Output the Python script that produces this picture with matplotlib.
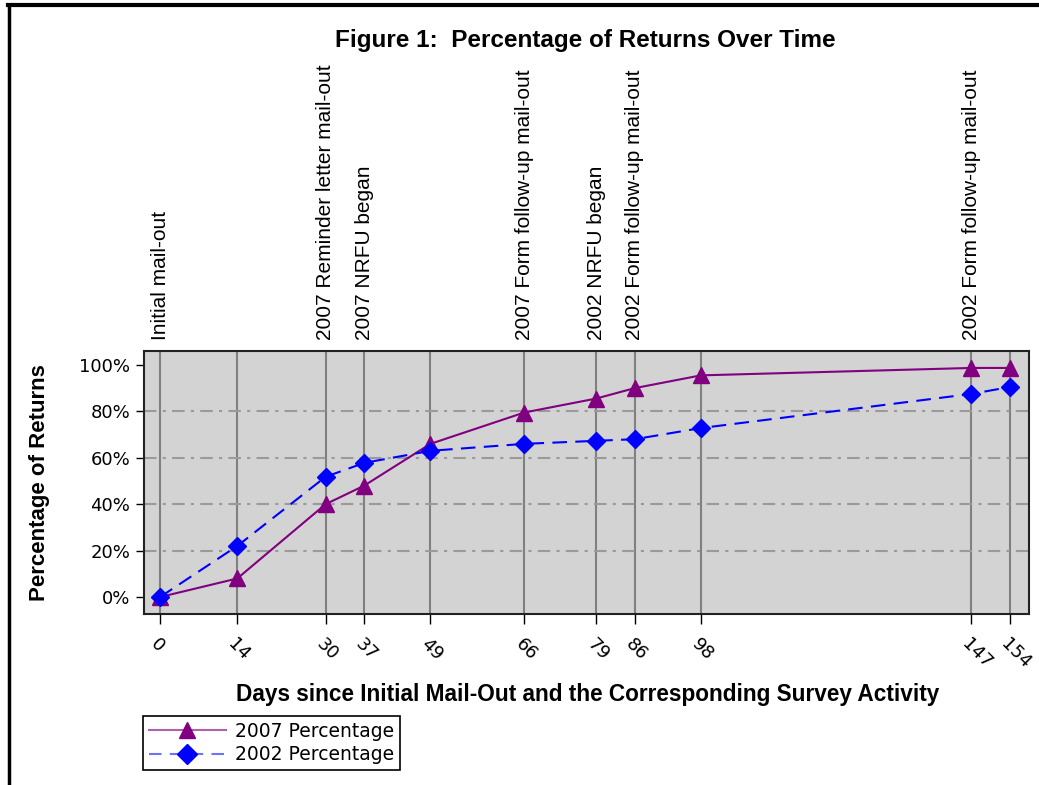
import numpy as np
import matplotlib.pyplot as plt
from matplotlib.lines import Line2D
from matplotlib.ticker import FuncFormatter

##################################
# DATA
##################################

days = [0, 14, 30, 37, 49, 66, 79, 86, 98, 147, 154]
pct_2007 = [0, 8, 40, 48, 66, 79.5, 85.5, 90, 95.5, 98.7, 98.7]
pct_2002 = [0, 22, 51.8, 57.8, 63, 66, 67.3, 68, 72.8, 87.5, 90.5]

event_days = [0, 30, 37, 66, 79, 86, 147]
event_labels = ["Initial mail-out",
                "2007 Reminder letter mail-out",
                "2007 NRFU began",
                "2007 Form follow-up mail-out",
                "2002 NRFU began",
                "2002 Form follow-up mail-out",
                "2002 Form follow-up mail-out"]

y_ticks = [0, 20, 40, 60, 80, 100]
grid_levels = [20, 40, 60, 80]

##################################
# PLOTTING
##################################

W, H = 1039, 785
fig = plt.figure(figsize=(W / 100, H / 100), dpi=100)
fig.patch.set_facecolor("white")

# page frame (left and top only)
fig.add_artist(Line2D([9 / W, 9 / W], [0, 1 - 5 / H], color="black", lw=2.5, transform=fig.transFigure))
fig.add_artist(Line2D([8 / W, 1], [1 - 5 / H, 1 - 5 / H], color="black", lw=3, transform=fig.transFigure))

ax = fig.add_axes([144 / W, 1 - 614 / H, (1029 - 144) / W, (614 - 351) / H])
ax.set_facecolor("#d3d3d3")
ax.set_xlim(-2.9, 157.45)
ax.set_ylim(-7.3, 106.0)

# reference lines
for d in days:
    ax.axvline(d, color="#808080", lw=1.5, zorder=1)
for g in grid_levels:
    ax.axhline(g, color="#9a9a9a", lw=1.5, linestyle=(0, (6, 3, 1.5, 3)), zorder=1)

ax.plot(days, pct_2007, color="#800080", lw=1.5, marker="^", markersize=11,
        markerfacecolor="#800080", markeredgecolor="#800080", zorder=3)
ax.plot(days, pct_2002, color="#0000ff", lw=1.5, linestyle=(0, (7, 4)), marker="D",
        markersize=9.5, markerfacecolor="#0000ff", markeredgecolor="#0000ff", zorder=4)

for sp in ax.spines.values():
    sp.set_linewidth(1.5)
    sp.set_color("#222222")

ax.set_xticks(days)
ax.set_xticklabels([str(d) for d in days], rotation=-45, ha="left", va="top",
                   rotation_mode="anchor", fontsize=13, fontfamily="DejaVu Sans")
ax.tick_params(axis="x", length=7, width=1, pad=8)
ax.set_yticks(y_ticks)
ax.yaxis.set_major_formatter(FuncFormatter(lambda v, p: "%d%%" % v))
ax.tick_params(axis="y", length=6, width=1, labelsize=13, pad=4)

# event annotations above the plot
for d, lab in zip(event_days, event_labels):
    ax.annotate(lab, xy=(d, 106.0), xycoords="data", xytext=(0, 8), textcoords="offset points",
                rotation=90, ha="center", va="bottom", fontsize=15, fontfamily="Liberation Sans")

fig.text(585 / W, 1 - 41 / H, "Figure 1:  Percentage of Returns Over Time", ha="center", va="center",
         fontsize=17.5, fontweight="bold", fontfamily="Liberation Sans")
fig.text(588 / W, 1 - 695 / H, "Days since Initial Mail-Out and the Corresponding Survey Activity",
         ha="center", va="center", fontsize=16.3, fontweight="bold", fontfamily="Liberation Sans")
fig.text(40 / W, 1 - 483 / H, "Percentage of Returns", ha="center", va="center", rotation=90,
         fontsize=16, fontweight="bold", fontfamily="Liberation Sans")

# legend
h07 = Line2D([], [], color="#b060b0", lw=1.5, marker="^", markersize=12,
             markerfacecolor="#800080", markeredgecolor="#800080")
h02 = Line2D([], [], color="#7070ff", lw=1.5, linestyle=(0, (6, 4)), marker="D", markersize=10,
             markerfacecolor="#0000ff", markeredgecolor="#0000ff")
leg = fig.legend([h07, h02], ["2007 Percentage", "2002 Percentage"], loc="upper left",
                 bbox_to_anchor=(143 / W, 1 - 716 / H), fontsize=13.5, frameon=True, fancybox=False,
                 edgecolor="black", framealpha=1, handlelength=4.1, handletextpad=0.5,
                 borderpad=0.3, labelspacing=0.25, borderaxespad=0)
leg.get_frame().set_linewidth(1.2)

fig.savefig("out.png", dpi=100)
